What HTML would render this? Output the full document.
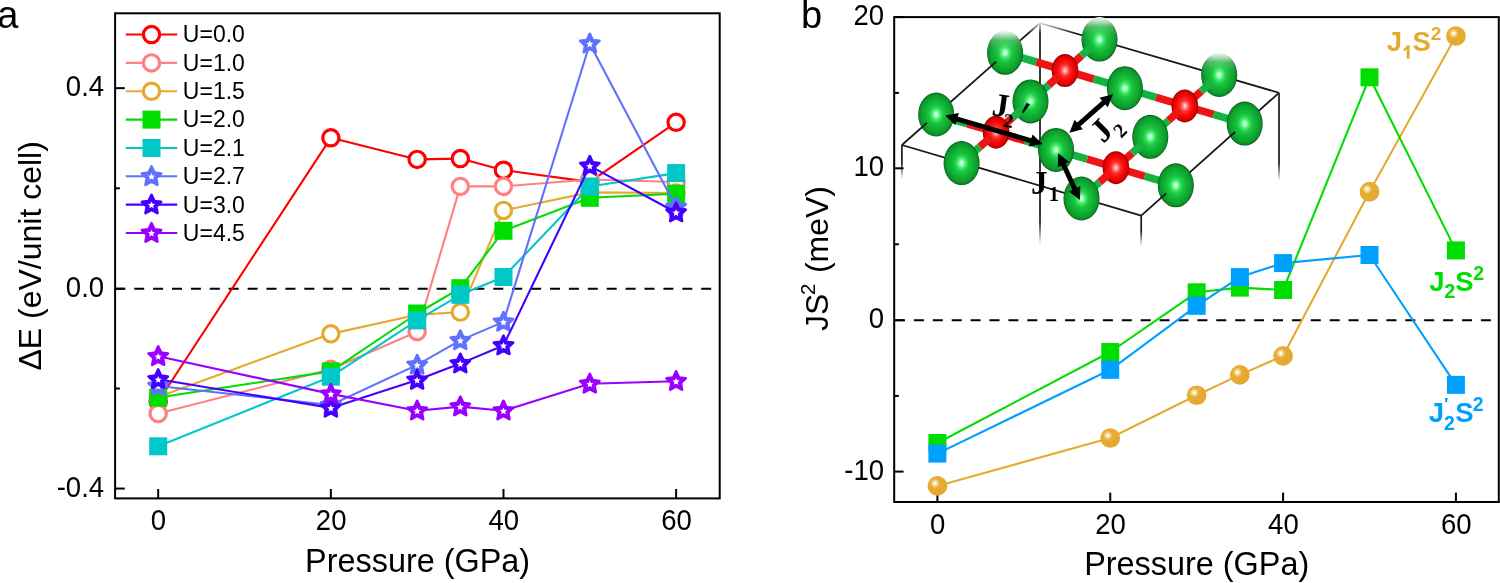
<!DOCTYPE html>
<html><head><meta charset="utf-8"><style>html,body{margin:0;padding:0;background:#fff;width:1500px;height:583px;overflow:hidden}svg{display:block;will-change:transform}</style></head>
<body><svg width="1500" height="583" viewBox="0 0 1500 583">
<defs>
<radialGradient id="gGold" cx="0.38" cy="0.37" r="0.72">
<stop offset="0" stop-color="#fffdf0"/><stop offset="0.08" stop-color="#fff6dc"/><stop offset="0.2" stop-color="#f2cf80"/><stop offset="0.34" stop-color="#e6ad33"/><stop offset="1" stop-color="#e3a82c"/></radialGradient>
<radialGradient id="gG" cx="0.5" cy="0.5" r="0.5">
<stop offset="0" stop-color="#e8ffff"/><stop offset="0.08" stop-color="#b8ffd8"/><stop offset="0.22" stop-color="#44ee6c"/><stop offset="0.4" stop-color="#1ac840"/><stop offset="0.62" stop-color="#12b236"/><stop offset="0.85" stop-color="#0d9e2c"/><stop offset="0.95" stop-color="#088722"/><stop offset="1" stop-color="#034512"/></radialGradient>
<radialGradient id="gR" cx="0.5" cy="0.5" r="0.5">
<stop offset="0" stop-color="#ffe6e6"/><stop offset="0.14" stop-color="#ff9a9a"/><stop offset="0.34" stop-color="#ff3030"/><stop offset="0.6" stop-color="#f80a0a"/><stop offset="0.88" stop-color="#dc0000"/><stop offset="0.97" stop-color="#a00000"/><stop offset="1" stop-color="#700000"/></radialGradient>
<linearGradient id="fadeTop" x1="0" y1="0" x2="0" y2="1">
<stop offset="0" stop-color="#fff" stop-opacity="1"/><stop offset="0.1" stop-color="#fff" stop-opacity="0.7"/><stop offset="0.22" stop-color="#fff" stop-opacity="0.25"/><stop offset="0.38" stop-color="#fff" stop-opacity="0.06"/><stop offset="0.5" stop-color="#fff" stop-opacity="0"/></linearGradient>
<linearGradient id="fadeV" x1="0" y1="0" x2="0" y2="1">
<stop offset="0" stop-color="#1a1a1a" stop-opacity="1"/><stop offset="0.55" stop-color="#1a1a1a" stop-opacity="1"/><stop offset="1" stop-color="#1a1a1a" stop-opacity="0"/></linearGradient>
<linearGradient id="fadeTop2" x1="0" y1="0" x2="0" y2="1"><stop offset="0" stop-color="#fff" stop-opacity="1"/><stop offset="0.3" stop-color="#fff" stop-opacity="0.85"/><stop offset="1" stop-color="#fff" stop-opacity="0"/></linearGradient>
</defs>
<rect width="1500" height="583" fill="#fff"/>
<g stroke="#000" stroke-width="2" fill="none">
<rect x="115.1" y="13.3" width="604.6" height="485.1"/>
<line x1="115.1" y1="88.15" x2="124.8" y2="88.15"/>
<line x1="115.1" y1="288.75" x2="124.8" y2="288.75"/>
<line x1="115.1" y1="488.55" x2="124.8" y2="488.55"/>
<line x1="115.1" y1="188.3" x2="119.9" y2="188.3"/>
<line x1="115.1" y1="388.5" x2="119.9" y2="388.5"/>
<line x1="158.20" y1="498.4" x2="158.20" y2="489"/>
<line x1="330.84" y1="498.4" x2="330.84" y2="489"/>
<line x1="503.48" y1="498.4" x2="503.48" y2="489"/>
<line x1="676.12" y1="498.4" x2="676.12" y2="489"/>
</g>
<line x1="115.3" y1="288.75" x2="719" y2="288.75" stroke="#000" stroke-width="2" stroke-dasharray="10 8.9"/>
<polyline points="158.20,401.50 330.84,137.80 417.16,159.40 460.32,158.60 503.48,170.20 589.80,181.90 676.12,122.30" fill="none" stroke="#ff0000" stroke-width="2.1" stroke-linejoin="round"/>
<circle cx="158.20" cy="401.50" r="8.15" fill="#fff" stroke="#ff0000" stroke-width="3.2"/>
<circle cx="330.84" cy="137.80" r="8.15" fill="#fff" stroke="#ff0000" stroke-width="3.2"/>
<circle cx="417.16" cy="159.40" r="8.15" fill="#fff" stroke="#ff0000" stroke-width="3.2"/>
<circle cx="460.32" cy="158.60" r="8.15" fill="#fff" stroke="#ff0000" stroke-width="3.2"/>
<circle cx="503.48" cy="170.20" r="8.15" fill="#fff" stroke="#ff0000" stroke-width="3.2"/>
<circle cx="589.80" cy="181.90" r="8.15" fill="#fff" stroke="#ff0000" stroke-width="3.2"/>
<circle cx="676.12" cy="122.30" r="8.15" fill="#fff" stroke="#ff0000" stroke-width="3.2"/>
<polyline points="158.20,413.50 330.84,369.30 417.16,331.70 460.32,186.40 503.48,186.40 589.80,179.50 676.12,182.00" fill="none" stroke="#ff8080" stroke-width="2.1" stroke-linejoin="round"/>
<circle cx="158.20" cy="413.50" r="8.15" fill="#fff" stroke="#ff8080" stroke-width="3.2"/>
<circle cx="330.84" cy="369.30" r="8.15" fill="#fff" stroke="#ff8080" stroke-width="3.2"/>
<circle cx="417.16" cy="331.70" r="8.15" fill="#fff" stroke="#ff8080" stroke-width="3.2"/>
<circle cx="460.32" cy="186.40" r="8.15" fill="#fff" stroke="#ff8080" stroke-width="3.2"/>
<circle cx="503.48" cy="186.40" r="8.15" fill="#fff" stroke="#ff8080" stroke-width="3.2"/>
<circle cx="589.80" cy="179.50" r="8.15" fill="#fff" stroke="#ff8080" stroke-width="3.2"/>
<circle cx="676.12" cy="182.00" r="8.15" fill="#fff" stroke="#ff8080" stroke-width="3.2"/>
<polyline points="158.20,397.00 330.84,333.85 417.16,314.70 460.32,312.10 503.48,210.40 589.80,192.40 676.12,193.00" fill="none" stroke="#e5a92f" stroke-width="2.1" stroke-linejoin="round"/>
<circle cx="158.20" cy="397.00" r="8.15" fill="#fff" stroke="#e5a92f" stroke-width="3.2"/>
<circle cx="330.84" cy="333.85" r="8.15" fill="#fff" stroke="#e5a92f" stroke-width="3.2"/>
<circle cx="417.16" cy="314.70" r="8.15" fill="#fff" stroke="#e5a92f" stroke-width="3.2"/>
<circle cx="460.32" cy="312.10" r="8.15" fill="#fff" stroke="#e5a92f" stroke-width="3.2"/>
<circle cx="503.48" cy="210.40" r="8.15" fill="#fff" stroke="#e5a92f" stroke-width="3.2"/>
<circle cx="589.80" cy="192.40" r="8.15" fill="#fff" stroke="#e5a92f" stroke-width="3.2"/>
<circle cx="676.12" cy="193.00" r="8.15" fill="#fff" stroke="#e5a92f" stroke-width="3.2"/>
<polyline points="158.20,397.50 330.84,371.40 417.16,313.50 460.32,288.20 503.48,230.80 589.80,197.80 676.12,193.80" fill="none" stroke="#00dd00" stroke-width="2.1" stroke-linejoin="round"/>
<rect x="149.20" y="388.50" width="18" height="18" fill="#00dd00"/>
<rect x="321.84" y="362.40" width="18" height="18" fill="#00dd00"/>
<rect x="408.16" y="304.50" width="18" height="18" fill="#00dd00"/>
<rect x="451.32" y="279.20" width="18" height="18" fill="#00dd00"/>
<rect x="494.48" y="221.80" width="18" height="18" fill="#00dd00"/>
<rect x="580.80" y="188.80" width="18" height="18" fill="#00dd00"/>
<rect x="667.12" y="184.80" width="18" height="18" fill="#00dd00"/>
<polyline points="158.20,446.30 330.84,376.70 417.16,320.40 460.32,294.80 503.48,277.00 589.80,186.50 676.12,173.10" fill="none" stroke="#00c8c8" stroke-width="2.1" stroke-linejoin="round"/>
<rect x="149.20" y="437.30" width="18" height="18" fill="#00c8c8"/>
<rect x="321.84" y="367.70" width="18" height="18" fill="#00c8c8"/>
<rect x="408.16" y="311.40" width="18" height="18" fill="#00c8c8"/>
<rect x="451.32" y="285.80" width="18" height="18" fill="#00c8c8"/>
<rect x="494.48" y="268.00" width="18" height="18" fill="#00c8c8"/>
<rect x="580.80" y="177.50" width="18" height="18" fill="#00c8c8"/>
<rect x="667.12" y="164.10" width="18" height="18" fill="#00c8c8"/>
<polyline points="158.20,386.00 330.84,405.00 417.16,364.90 460.32,340.40 503.48,321.90 589.80,43.70 676.12,207.00" fill="none" stroke="#6070ff" stroke-width="2.1" stroke-linejoin="round"/>
<polygon points="158.20,376.20 161.08,382.34 167.81,383.18 162.86,387.81 164.14,394.47 158.20,391.20 152.26,394.47 153.54,387.81 148.59,383.18 155.32,382.34" fill="#6070ff" stroke="#6070ff" stroke-width="2.7" stroke-linejoin="round"/><polygon points="158.20,382.75 159.23,385.08 161.77,385.34 159.86,387.04 160.40,389.53 158.20,388.25 156.00,389.53 156.54,387.04 154.63,385.34 157.17,385.08" fill="#fff"/>
<polygon points="330.84,395.20 333.72,401.34 340.45,402.18 335.50,406.81 336.78,413.47 330.84,410.20 324.90,413.47 326.18,406.81 321.23,402.18 327.96,401.34" fill="#6070ff" stroke="#6070ff" stroke-width="2.7" stroke-linejoin="round"/><polygon points="330.84,401.75 331.87,404.08 334.41,404.34 332.50,406.04 333.04,408.53 330.84,407.25 328.64,408.53 329.18,406.04 327.27,404.34 329.81,404.08" fill="#fff"/>
<polygon points="417.16,355.10 420.04,361.24 426.77,362.08 421.82,366.71 423.10,373.37 417.16,370.10 411.22,373.37 412.50,366.71 407.55,362.08 414.28,361.24" fill="#6070ff" stroke="#6070ff" stroke-width="2.7" stroke-linejoin="round"/><polygon points="417.16,361.65 418.19,363.98 420.73,364.24 418.82,365.94 419.36,368.43 417.16,367.15 414.96,368.43 415.50,365.94 413.59,364.24 416.13,363.98" fill="#fff"/>
<polygon points="460.32,330.60 463.20,336.74 469.93,337.58 464.98,342.21 466.26,348.87 460.32,345.60 454.38,348.87 455.66,342.21 450.71,337.58 457.44,336.74" fill="#6070ff" stroke="#6070ff" stroke-width="2.7" stroke-linejoin="round"/><polygon points="460.32,337.15 461.35,339.48 463.89,339.74 461.98,341.44 462.52,343.93 460.32,342.65 458.12,343.93 458.66,341.44 456.75,339.74 459.29,339.48" fill="#fff"/>
<polygon points="503.48,312.10 506.36,318.24 513.09,319.08 508.14,323.71 509.42,330.37 503.48,327.10 497.54,330.37 498.82,323.71 493.87,319.08 500.60,318.24" fill="#6070ff" stroke="#6070ff" stroke-width="2.7" stroke-linejoin="round"/><polygon points="503.48,318.65 504.51,320.98 507.05,321.24 505.14,322.94 505.68,325.43 503.48,324.15 501.28,325.43 501.82,322.94 499.91,321.24 502.45,320.98" fill="#fff"/>
<polygon points="589.80,33.90 592.68,40.04 599.41,40.88 594.46,45.51 595.74,52.17 589.80,48.90 583.86,52.17 585.14,45.51 580.19,40.88 586.92,40.04" fill="#6070ff" stroke="#6070ff" stroke-width="2.7" stroke-linejoin="round"/><polygon points="589.80,40.45 590.83,42.78 593.37,43.04 591.46,44.74 592.00,47.23 589.80,45.95 587.60,47.23 588.14,44.74 586.23,43.04 588.77,42.78" fill="#fff"/>
<polygon points="676.12,197.20 679.00,203.34 685.73,204.18 680.78,208.81 682.06,215.47 676.12,212.20 670.18,215.47 671.46,208.81 666.51,204.18 673.24,203.34" fill="#6070ff" stroke="#6070ff" stroke-width="2.7" stroke-linejoin="round"/><polygon points="676.12,203.75 677.15,206.08 679.69,206.34 677.78,208.04 678.32,210.53 676.12,209.25 673.92,210.53 674.46,208.04 672.55,206.34 675.09,206.08" fill="#fff"/>
<polyline points="158.20,379.30 330.84,407.90 417.16,380.00 460.32,363.60 503.48,345.50 589.80,165.90 676.12,212.50" fill="none" stroke="#4400ff" stroke-width="2.1" stroke-linejoin="round"/>
<polygon points="158.20,369.50 161.08,375.64 167.81,376.48 162.86,381.11 164.14,387.77 158.20,384.50 152.26,387.77 153.54,381.11 148.59,376.48 155.32,375.64" fill="#4400ff" stroke="#4400ff" stroke-width="2.7" stroke-linejoin="round"/><polygon points="158.20,376.05 159.23,378.38 161.77,378.64 159.86,380.34 160.40,382.83 158.20,381.55 156.00,382.83 156.54,380.34 154.63,378.64 157.17,378.38" fill="#fff"/>
<polygon points="330.84,398.10 333.72,404.24 340.45,405.08 335.50,409.71 336.78,416.37 330.84,413.10 324.90,416.37 326.18,409.71 321.23,405.08 327.96,404.24" fill="#4400ff" stroke="#4400ff" stroke-width="2.7" stroke-linejoin="round"/><polygon points="330.84,404.65 331.87,406.98 334.41,407.24 332.50,408.94 333.04,411.43 330.84,410.15 328.64,411.43 329.18,408.94 327.27,407.24 329.81,406.98" fill="#fff"/>
<polygon points="417.16,370.20 420.04,376.34 426.77,377.18 421.82,381.81 423.10,388.47 417.16,385.20 411.22,388.47 412.50,381.81 407.55,377.18 414.28,376.34" fill="#4400ff" stroke="#4400ff" stroke-width="2.7" stroke-linejoin="round"/><polygon points="417.16,376.75 418.19,379.08 420.73,379.34 418.82,381.04 419.36,383.53 417.16,382.25 414.96,383.53 415.50,381.04 413.59,379.34 416.13,379.08" fill="#fff"/>
<polygon points="460.32,353.80 463.20,359.94 469.93,360.78 464.98,365.41 466.26,372.07 460.32,368.80 454.38,372.07 455.66,365.41 450.71,360.78 457.44,359.94" fill="#4400ff" stroke="#4400ff" stroke-width="2.7" stroke-linejoin="round"/><polygon points="460.32,360.35 461.35,362.68 463.89,362.94 461.98,364.64 462.52,367.13 460.32,365.85 458.12,367.13 458.66,364.64 456.75,362.94 459.29,362.68" fill="#fff"/>
<polygon points="503.48,335.70 506.36,341.84 513.09,342.68 508.14,347.31 509.42,353.97 503.48,350.70 497.54,353.97 498.82,347.31 493.87,342.68 500.60,341.84" fill="#4400ff" stroke="#4400ff" stroke-width="2.7" stroke-linejoin="round"/><polygon points="503.48,342.25 504.51,344.58 507.05,344.84 505.14,346.54 505.68,349.03 503.48,347.75 501.28,349.03 501.82,346.54 499.91,344.84 502.45,344.58" fill="#fff"/>
<polygon points="589.80,156.10 592.68,162.24 599.41,163.08 594.46,167.71 595.74,174.37 589.80,171.10 583.86,174.37 585.14,167.71 580.19,163.08 586.92,162.24" fill="#4400ff" stroke="#4400ff" stroke-width="2.7" stroke-linejoin="round"/><polygon points="589.80,162.65 590.83,164.98 593.37,165.24 591.46,166.94 592.00,169.43 589.80,168.15 587.60,169.43 588.14,166.94 586.23,165.24 588.77,164.98" fill="#fff"/>
<polygon points="676.12,202.70 679.00,208.84 685.73,209.68 680.78,214.31 682.06,220.97 676.12,217.70 670.18,220.97 671.46,214.31 666.51,209.68 673.24,208.84" fill="#4400ff" stroke="#4400ff" stroke-width="2.7" stroke-linejoin="round"/><polygon points="676.12,209.25 677.15,211.58 679.69,211.84 677.78,213.54 678.32,216.03 676.12,214.75 673.92,216.03 674.46,213.54 672.55,211.84 675.09,211.58" fill="#fff"/>
<polyline points="158.20,356.30 330.84,393.90 417.16,410.70 460.32,406.60 503.48,410.70 589.80,383.80 676.12,381.20" fill="none" stroke="#9900ff" stroke-width="2.1" stroke-linejoin="round"/>
<polygon points="158.20,346.50 161.08,352.64 167.81,353.48 162.86,358.11 164.14,364.77 158.20,361.50 152.26,364.77 153.54,358.11 148.59,353.48 155.32,352.64" fill="#9900ff" stroke="#9900ff" stroke-width="2.7" stroke-linejoin="round"/><polygon points="158.20,353.05 159.23,355.38 161.77,355.64 159.86,357.34 160.40,359.83 158.20,358.55 156.00,359.83 156.54,357.34 154.63,355.64 157.17,355.38" fill="#fff"/>
<polygon points="330.84,384.10 333.72,390.24 340.45,391.08 335.50,395.71 336.78,402.37 330.84,399.10 324.90,402.37 326.18,395.71 321.23,391.08 327.96,390.24" fill="#9900ff" stroke="#9900ff" stroke-width="2.7" stroke-linejoin="round"/><polygon points="330.84,390.65 331.87,392.98 334.41,393.24 332.50,394.94 333.04,397.43 330.84,396.15 328.64,397.43 329.18,394.94 327.27,393.24 329.81,392.98" fill="#fff"/>
<polygon points="417.16,400.90 420.04,407.04 426.77,407.88 421.82,412.51 423.10,419.17 417.16,415.90 411.22,419.17 412.50,412.51 407.55,407.88 414.28,407.04" fill="#9900ff" stroke="#9900ff" stroke-width="2.7" stroke-linejoin="round"/><polygon points="417.16,407.45 418.19,409.78 420.73,410.04 418.82,411.74 419.36,414.23 417.16,412.95 414.96,414.23 415.50,411.74 413.59,410.04 416.13,409.78" fill="#fff"/>
<polygon points="460.32,396.80 463.20,402.94 469.93,403.78 464.98,408.41 466.26,415.07 460.32,411.80 454.38,415.07 455.66,408.41 450.71,403.78 457.44,402.94" fill="#9900ff" stroke="#9900ff" stroke-width="2.7" stroke-linejoin="round"/><polygon points="460.32,403.35 461.35,405.68 463.89,405.94 461.98,407.64 462.52,410.13 460.32,408.85 458.12,410.13 458.66,407.64 456.75,405.94 459.29,405.68" fill="#fff"/>
<polygon points="503.48,400.90 506.36,407.04 513.09,407.88 508.14,412.51 509.42,419.17 503.48,415.90 497.54,419.17 498.82,412.51 493.87,407.88 500.60,407.04" fill="#9900ff" stroke="#9900ff" stroke-width="2.7" stroke-linejoin="round"/><polygon points="503.48,407.45 504.51,409.78 507.05,410.04 505.14,411.74 505.68,414.23 503.48,412.95 501.28,414.23 501.82,411.74 499.91,410.04 502.45,409.78" fill="#fff"/>
<polygon points="589.80,374.00 592.68,380.14 599.41,380.98 594.46,385.61 595.74,392.27 589.80,389.00 583.86,392.27 585.14,385.61 580.19,380.98 586.92,380.14" fill="#9900ff" stroke="#9900ff" stroke-width="2.7" stroke-linejoin="round"/><polygon points="589.80,380.55 590.83,382.88 593.37,383.14 591.46,384.84 592.00,387.33 589.80,386.05 587.60,387.33 588.14,384.84 586.23,383.14 588.77,382.88" fill="#fff"/>
<polygon points="676.12,371.40 679.00,377.54 685.73,378.38 680.78,383.01 682.06,389.67 676.12,386.40 670.18,389.67 671.46,383.01 666.51,378.38 673.24,377.54" fill="#9900ff" stroke="#9900ff" stroke-width="2.7" stroke-linejoin="round"/><polygon points="676.12,377.95 677.15,380.28 679.69,380.54 677.78,382.24 678.32,384.73 676.12,383.45 673.92,384.73 674.46,382.24 672.55,380.54 675.09,380.28" fill="#fff"/>
<line x1="125.8" y1="34.55" x2="177.2" y2="34.55" stroke="#ff0000" stroke-width="2.1"/>
<circle cx="151.50" cy="34.55" r="8.15" fill="#fff" stroke="#ff0000" stroke-width="3.2"/>
<text transform="translate(182.85,42.40) scale(1.0,1.02)" font-family="&quot;Liberation Sans&quot;, sans-serif" font-size="23">U=0.0</text>
<line x1="125.8" y1="62.90" x2="177.2" y2="62.90" stroke="#ff8080" stroke-width="2.1"/>
<circle cx="151.50" cy="62.90" r="8.15" fill="#fff" stroke="#ff8080" stroke-width="3.2"/>
<text transform="translate(182.85,70.75) scale(1.0,1.02)" font-family="&quot;Liberation Sans&quot;, sans-serif" font-size="23">U=1.0</text>
<line x1="125.8" y1="91.25" x2="177.2" y2="91.25" stroke="#e5a92f" stroke-width="2.1"/>
<circle cx="151.50" cy="91.25" r="8.15" fill="#fff" stroke="#e5a92f" stroke-width="3.2"/>
<text transform="translate(182.85,99.10) scale(1.0,1.02)" font-family="&quot;Liberation Sans&quot;, sans-serif" font-size="23">U=1.5</text>
<line x1="125.8" y1="119.60" x2="177.2" y2="119.60" stroke="#00dd00" stroke-width="2.1"/>
<rect x="142.50" y="110.60" width="18" height="18" fill="#00dd00"/>
<text transform="translate(182.85,127.45) scale(1.0,1.02)" font-family="&quot;Liberation Sans&quot;, sans-serif" font-size="23">U=2.0</text>
<line x1="125.8" y1="147.95" x2="177.2" y2="147.95" stroke="#00c8c8" stroke-width="2.1"/>
<rect x="142.50" y="138.95" width="18" height="18" fill="#00c8c8"/>
<text transform="translate(182.85,155.80) scale(1.0,1.02)" font-family="&quot;Liberation Sans&quot;, sans-serif" font-size="23">U=2.1</text>
<line x1="125.8" y1="176.30" x2="177.2" y2="176.30" stroke="#6070ff" stroke-width="2.1"/>
<polygon points="151.50,166.50 154.38,172.64 161.11,173.48 156.16,178.11 157.44,184.77 151.50,181.50 145.56,184.77 146.84,178.11 141.89,173.48 148.62,172.64" fill="#6070ff" stroke="#6070ff" stroke-width="2.7" stroke-linejoin="round"/><polygon points="151.50,173.05 152.53,175.38 155.07,175.64 153.16,177.34 153.70,179.83 151.50,178.55 149.30,179.83 149.84,177.34 147.93,175.64 150.47,175.38" fill="#fff"/>
<text transform="translate(182.85,184.15) scale(1.0,1.02)" font-family="&quot;Liberation Sans&quot;, sans-serif" font-size="23">U=2.7</text>
<line x1="125.8" y1="204.65" x2="177.2" y2="204.65" stroke="#4400ff" stroke-width="2.1"/>
<polygon points="151.50,194.85 154.38,200.99 161.11,201.83 156.16,206.46 157.44,213.12 151.50,209.85 145.56,213.12 146.84,206.46 141.89,201.83 148.62,200.99" fill="#4400ff" stroke="#4400ff" stroke-width="2.7" stroke-linejoin="round"/><polygon points="151.50,201.40 152.53,203.73 155.07,203.99 153.16,205.69 153.70,208.18 151.50,206.90 149.30,208.18 149.84,205.69 147.93,203.99 150.47,203.73" fill="#fff"/>
<text transform="translate(182.85,212.50) scale(1.0,1.02)" font-family="&quot;Liberation Sans&quot;, sans-serif" font-size="23">U=3.0</text>
<line x1="125.8" y1="233.00" x2="177.2" y2="233.00" stroke="#9900ff" stroke-width="2.1"/>
<polygon points="151.50,223.20 154.38,229.34 161.11,230.18 156.16,234.81 157.44,241.47 151.50,238.20 145.56,241.47 146.84,234.81 141.89,230.18 148.62,229.34" fill="#9900ff" stroke="#9900ff" stroke-width="2.7" stroke-linejoin="round"/><polygon points="151.50,229.75 152.53,232.08 155.07,232.34 153.16,234.04 153.70,236.53 151.50,235.25 149.30,236.53 149.84,234.04 147.93,232.34 150.47,232.08" fill="#fff"/>
<text transform="translate(182.85,240.85) scale(1.0,1.02)" font-family="&quot;Liberation Sans&quot;, sans-serif" font-size="23">U=4.5</text>
<text transform="translate(104.10,96.40) scale(1.0,1.06)" text-anchor="end" font-family="&quot;Liberation Sans&quot;, sans-serif" font-size="27.5">0.4</text>
<text transform="translate(104.10,297.00) scale(1.0,1.06)" text-anchor="end" font-family="&quot;Liberation Sans&quot;, sans-serif" font-size="27.5">0.0</text>
<text transform="translate(104.10,496.80) scale(1.0,1.06)" text-anchor="end" font-family="&quot;Liberation Sans&quot;, sans-serif" font-size="27.5">-0.4</text>
<text transform="translate(158.50,530.30) scale(1.0,1.06)" text-anchor="middle" font-family="&quot;Liberation Sans&quot;, sans-serif" font-size="27.5">0</text>
<text transform="translate(331.14,530.30) scale(1.0,1.06)" text-anchor="middle" font-family="&quot;Liberation Sans&quot;, sans-serif" font-size="27.5">20</text>
<text transform="translate(503.78,530.30) scale(1.0,1.06)" text-anchor="middle" font-family="&quot;Liberation Sans&quot;, sans-serif" font-size="27.5">40</text>
<text transform="translate(676.42,530.30) scale(1.0,1.06)" text-anchor="middle" font-family="&quot;Liberation Sans&quot;, sans-serif" font-size="27.5">60</text>
<text x="305.10" y="571.80" font-family="&quot;Liberation Sans&quot;, sans-serif" font-size="32.4">Pressure (GPa)</text>
<text transform="translate(40.6,370.6) rotate(-90)" font-family="&quot;Liberation Sans&quot;, sans-serif" font-size="32">&#916;E (eV/unit cell)</text>
<text x="-2.65" y="27.60" font-family="&quot;Liberation Sans&quot;, sans-serif" font-size="38">a</text>
<g stroke="#000" stroke-width="2" fill="none">
<rect x="894.2" y="17.1" width="604.6" height="484.9"/>
<line x1="894.2" y1="17.1" x2="903.6" y2="17.1"/>
<line x1="894.2" y1="168.3" x2="903.6" y2="168.3"/>
<line x1="894.2" y1="320.2" x2="903.6" y2="320.2"/>
<line x1="894.2" y1="471.6" x2="903.6" y2="471.6"/>
<line x1="894.2" y1="92.9" x2="898.9" y2="92.9"/>
<line x1="894.2" y1="244.3" x2="898.9" y2="244.3"/>
<line x1="894.2" y1="395.9" x2="898.9" y2="395.9"/>
<line x1="937.40" y1="502" x2="937.40" y2="492.6"/>
<line x1="1110.24" y1="502" x2="1110.24" y2="492.6"/>
<line x1="1283.08" y1="502" x2="1283.08" y2="492.6"/>
<line x1="1455.92" y1="502" x2="1455.92" y2="492.6"/>
</g>
<line x1="895" y1="320.2" x2="1498" y2="320.2" stroke="#000" stroke-width="2" stroke-dasharray="10 8.9"/>
<g stroke="#161616" stroke-width="1.75" fill="none">
<line x1="1040.0" y1="23.0" x2="1279.0" y2="92.8"/>
<line x1="1040.0" y1="23.0" x2="901.9" y2="145.0"/>
<line x1="901.9" y1="145.0" x2="1141.2" y2="215.6"/>
<line x1="1141.2" y1="215.6" x2="1279.0" y2="92.8"/>
</g>
<linearGradient id="vf1" gradientUnits="userSpaceOnUse" x1="0" y1="23.0" x2="0" y2="244"><stop offset="0" stop-color="#1a1a1a"/><stop offset="0.900" stop-color="#1a1a1a"/><stop offset="1" stop-color="#1a1a1a" stop-opacity="0"/></linearGradient><rect x="1039.15" y="23.0" width="1.7" height="221.0" fill="url(#vf1)"/>
<linearGradient id="vf2" gradientUnits="userSpaceOnUse" x1="0" y1="145.0" x2="0" y2="179"><stop offset="0" stop-color="#1a1a1a"/><stop offset="0.529" stop-color="#1a1a1a"/><stop offset="1" stop-color="#1a1a1a" stop-opacity="0"/></linearGradient><rect x="901.05" y="145.0" width="1.7" height="34.0" fill="url(#vf2)"/>
<linearGradient id="vf3" gradientUnits="userSpaceOnUse" x1="0" y1="215.6" x2="0" y2="246"><stop offset="0" stop-color="#1a1a1a"/><stop offset="0.507" stop-color="#1a1a1a"/><stop offset="1" stop-color="#1a1a1a" stop-opacity="0"/></linearGradient><rect x="1140.35" y="215.6" width="1.7" height="30.4" fill="url(#vf3)"/>
<linearGradient id="vf4" gradientUnits="userSpaceOnUse" x1="0" y1="92.8" x2="0" y2="181"><stop offset="0" stop-color="#1a1a1a"/><stop offset="0.796" stop-color="#1a1a1a"/><stop offset="1" stop-color="#1a1a1a" stop-opacity="0"/></linearGradient><rect x="1278.15" y="92.8" width="1.7" height="88.2" fill="url(#vf4)"/>
<rect x="1018" y="19" width="60" height="14" fill="url(#fadeTop2)"/>
<ellipse cx="1099.5" cy="39.6" rx="18" ry="22" fill="url(#gG)"/><ellipse cx="1099.5" cy="39.6" rx="18.6" ry="22.6" fill="url(#fadeTop)"/>
<line x1="1005.1" y1="52.8" x2="1036.3" y2="62.0" stroke="#14b442" stroke-width="7.6"/><line x1="1036.3" y1="62.0" x2="1065.0" y2="70.5" stroke="#ee1414" stroke-width="7.6"/>
<ellipse cx="1005.1" cy="52.8" rx="18" ry="22" fill="url(#gG)"/><ellipse cx="1005.1" cy="52.8" rx="18.6" ry="22.6" fill="url(#fadeTop)"/>
<line x1="1092.0" y1="46.3" x2="1081.3" y2="55.9" stroke="#14b442" stroke-width="7.6"/><line x1="1081.3" y1="55.9" x2="1065.0" y2="70.5" stroke="#ee1414" stroke-width="7.6"/>
<line x1="1124.9" y1="88.2" x2="1093.7" y2="79.0" stroke="#14b442" stroke-width="7.6"/><line x1="1093.7" y1="79.0" x2="1065.0" y2="70.5" stroke="#ee1414" stroke-width="7.6"/>
<ellipse cx="1065.0" cy="70.5" rx="13.3" ry="16.5" fill="url(#gR)"/>
<ellipse cx="1219.2" cy="75.0" rx="18" ry="22" fill="url(#gG)"/><ellipse cx="1219.2" cy="75.0" rx="18.6" ry="22.6" fill="url(#fadeTop)"/>
<line x1="1030.5" y1="101.4" x2="1048.7" y2="85.1" stroke="#14b442" stroke-width="7.6"/><line x1="1048.7" y1="85.1" x2="1059.4" y2="75.5" stroke="#ee1414" stroke-width="7.6"/>
<line x1="1124.9" y1="88.2" x2="1156.1" y2="97.4" stroke="#14b442" stroke-width="7.6"/><line x1="1156.1" y1="97.4" x2="1184.8" y2="105.9" stroke="#ee1414" stroke-width="7.6"/>
<ellipse cx="1124.9" cy="88.2" rx="18" ry="22" fill="url(#gG)"/>
<line x1="1211.8" y1="81.7" x2="1201.1" y2="91.3" stroke="#14b442" stroke-width="7.6"/><line x1="1201.1" y1="91.3" x2="1184.8" y2="105.9" stroke="#ee1414" stroke-width="7.6"/>
<ellipse cx="1030.5" cy="101.4" rx="18" ry="22" fill="url(#gG)"/>
<line x1="1244.7" y1="123.6" x2="1213.5" y2="114.4" stroke="#14b442" stroke-width="7.6"/><line x1="1213.5" y1="114.4" x2="1184.8" y2="105.9" stroke="#ee1414" stroke-width="7.6"/>
<ellipse cx="1184.8" cy="105.9" rx="13.3" ry="16.5" fill="url(#gR)"/>
<line x1="936.2" y1="114.5" x2="967.4" y2="123.8" stroke="#14b442" stroke-width="7.6"/><line x1="967.4" y1="123.8" x2="996.1" y2="132.2" stroke="#ee1414" stroke-width="7.6"/>
<ellipse cx="936.2" cy="114.5" rx="18" ry="22" fill="url(#gG)"/>
<line x1="1023.1" y1="108.0" x2="1012.4" y2="117.7" stroke="#14b442" stroke-width="7.6"/><line x1="1012.4" y1="117.7" x2="996.1" y2="132.2" stroke="#ee1414" stroke-width="7.6"/>
<line x1="1150.3" y1="136.8" x2="1168.5" y2="120.5" stroke="#14b442" stroke-width="7.6"/><line x1="1168.5" y1="120.5" x2="1179.2" y2="110.9" stroke="#ee1414" stroke-width="7.6"/>
<ellipse cx="1244.7" cy="123.6" rx="18" ry="22" fill="url(#gG)"/>
<line x1="1056.0" y1="149.9" x2="1024.8" y2="140.7" stroke="#14b442" stroke-width="7.6"/><line x1="1024.8" y1="140.7" x2="996.1" y2="132.2" stroke="#ee1414" stroke-width="7.6"/>
<ellipse cx="996.1" cy="132.2" rx="13.3" ry="16.5" fill="url(#gR)"/>
<ellipse cx="1150.3" cy="136.8" rx="18" ry="22" fill="url(#gG)"/>
<line x1="961.6" y1="163.1" x2="979.8" y2="146.8" stroke="#14b442" stroke-width="7.6"/><line x1="979.8" y1="146.8" x2="990.5" y2="137.3" stroke="#ee1414" stroke-width="7.6"/>
<line x1="1056.0" y1="150.0" x2="1087.2" y2="159.2" stroke="#14b442" stroke-width="7.6"/><line x1="1087.2" y1="159.2" x2="1115.9" y2="167.7" stroke="#ee1414" stroke-width="7.6"/>
<ellipse cx="1056.0" cy="149.9" rx="18" ry="22" fill="url(#gG)"/>
<line x1="1142.9" y1="143.4" x2="1132.2" y2="153.1" stroke="#14b442" stroke-width="7.6"/><line x1="1132.2" y1="153.1" x2="1115.9" y2="167.7" stroke="#ee1414" stroke-width="7.6"/>
<ellipse cx="961.6" cy="163.1" rx="18" ry="22" fill="url(#gG)"/>
<line x1="1175.8" y1="185.3" x2="1144.6" y2="176.1" stroke="#14b442" stroke-width="7.6"/><line x1="1144.6" y1="176.1" x2="1115.9" y2="167.7" stroke="#ee1414" stroke-width="7.6"/>
<ellipse cx="1115.9" cy="167.7" rx="13.3" ry="16.5" fill="url(#gR)"/>
<line x1="1081.4" y1="198.5" x2="1099.6" y2="182.2" stroke="#14b442" stroke-width="7.6"/><line x1="1099.6" y1="182.2" x2="1110.3" y2="172.7" stroke="#ee1414" stroke-width="7.6"/>
<ellipse cx="1175.8" cy="185.3" rx="18" ry="22" fill="url(#gG)"/>
<ellipse cx="1081.5" cy="198.5" rx="18" ry="22" fill="url(#gG)"/>
<line x1="1161.19" y1="197.79" x2="1166.18" y2="193.34" stroke="#161616" stroke-width="1.75"/>
<line x1="1230.26" y1="136.23" x2="1235.25" y2="131.79" stroke="#161616" stroke-width="1.75"/>
<line x1="991.25" y1="66.07" x2="996.24" y2="61.66" stroke="#161616" stroke-width="1.75"/>
<line x1="921.91" y1="127.32" x2="926.91" y2="122.91" stroke="#161616" stroke-width="1.75"/>
<line x1="954.7" y1="118.4" x2="1033.1" y2="141.3" stroke="#000" stroke-width="5.0"/><polygon points="1042.7,144.1 1028.9,146.6 1032.5,134.6" fill="#000"/><polygon points="945.1,115.6 955.3,125.1 958.9,113.1" fill="#000"/>
<line x1="1076.9" y1="126.2" x2="1105.5" y2="100.8" stroke="#000" stroke-width="5.0"/><polygon points="1113.0,94.2 1107.8,107.2 1099.5,97.8" fill="#000"/><polygon points="1069.4,132.8 1082.9,129.2 1074.6,119.8" fill="#000"/>
<line x1="1062.4" y1="162.3" x2="1075.7" y2="191.0" stroke="#000" stroke-width="5.0"/><polygon points="1079.9,200.1 1069.0,191.4 1080.3,186.1" fill="#000"/><polygon points="1058.2,153.2 1057.8,167.2 1069.1,161.9" fill="#000"/>
<text x="1030.90" y="193.55" font-family="&quot;Liberation Serif&quot;, serif" font-weight="bold" font-size="33">J</text>
<text x="1048.80" y="201.40" font-family="&quot;Liberation Serif&quot;, serif" font-weight="bold" font-size="20.5">1</text>
<g transform="translate(1103.3,144.1) rotate(-45)"><text x="0.00" y="0.00" font-family="&quot;Liberation Serif&quot;, serif" font-weight="bold" font-size="33">J</text><text x="16.35" y="8.86" font-family="&quot;Liberation Serif&quot;, serif" font-weight="bold" font-size="20">2</text></g>
<g transform="translate(991.1,114.9) rotate(8)"><text x="0.00" y="0.00" font-family="&quot;Liberation Serif&quot;, serif" font-weight="bold" font-size="33">J</text><text x="13.07" y="10.21" font-family="&quot;Liberation Serif&quot;, serif" font-weight="bold" font-size="20">2</text></g>
<path d="M1026.6,103.0 L1030.0,104.2 L1023.4,113.0 L1021.8,112.4 Z" fill="#000"/>
<polyline points="937.40,485.90 1110.24,438.00 1196.66,395.25 1239.87,374.85 1283.08,355.90 1369.50,191.70 1455.92,36.00" fill="none" stroke="#e5ab2f" stroke-width="2.1" stroke-linejoin="round"/>
<circle cx="937.40" cy="485.90" r="9.85" fill="url(#gGold)"/>
<circle cx="1110.24" cy="438.00" r="9.85" fill="url(#gGold)"/>
<circle cx="1196.66" cy="395.25" r="9.85" fill="url(#gGold)"/>
<circle cx="1239.87" cy="374.85" r="9.85" fill="url(#gGold)"/>
<circle cx="1283.08" cy="355.90" r="9.85" fill="url(#gGold)"/>
<circle cx="1369.50" cy="191.70" r="9.85" fill="url(#gGold)"/>
<circle cx="1455.92" cy="36.00" r="9.85" fill="url(#gGold)"/>
<polyline points="937.40,443.00 1110.24,352.00 1196.66,292.30 1239.87,287.60 1283.08,290.00 1369.50,77.30 1455.92,250.40" fill="none" stroke="#00dd00" stroke-width="2.1" stroke-linejoin="round"/>
<rect x="928.40" y="434.00" width="18" height="18" fill="#00dd00"/>
<rect x="1101.24" y="343.00" width="18" height="18" fill="#00dd00"/>
<rect x="1187.66" y="283.30" width="18" height="18" fill="#00dd00"/>
<rect x="1230.87" y="278.60" width="18" height="18" fill="#00dd00"/>
<rect x="1274.08" y="281.00" width="18" height="18" fill="#00dd00"/>
<rect x="1360.50" y="68.30" width="18" height="18" fill="#00dd00"/>
<rect x="1446.92" y="241.40" width="18" height="18" fill="#00dd00"/>
<polyline points="937.40,453.60 1110.24,369.80 1196.66,305.80 1239.87,277.10 1283.08,263.10 1369.50,255.00 1455.92,384.85" fill="none" stroke="#00a0ff" stroke-width="2.1" stroke-linejoin="round"/>
<rect x="928.40" y="444.60" width="18" height="18" fill="#00a0ff"/>
<rect x="1101.24" y="360.80" width="18" height="18" fill="#00a0ff"/>
<rect x="1187.66" y="296.80" width="18" height="18" fill="#00a0ff"/>
<rect x="1230.87" y="268.10" width="18" height="18" fill="#00a0ff"/>
<rect x="1274.08" y="254.10" width="18" height="18" fill="#00a0ff"/>
<rect x="1360.50" y="246.00" width="18" height="18" fill="#00a0ff"/>
<rect x="1446.92" y="375.85" width="18" height="18" fill="#00a0ff"/>
<text transform="translate(884.00,25.10) scale(1.0,1.06)" text-anchor="end" font-family="&quot;Liberation Sans&quot;, sans-serif" font-size="27.5">20</text>
<text transform="translate(884.00,176.30) scale(1.0,1.06)" text-anchor="end" font-family="&quot;Liberation Sans&quot;, sans-serif" font-size="27.5">10</text>
<text transform="translate(884.00,328.20) scale(1.0,1.06)" text-anchor="end" font-family="&quot;Liberation Sans&quot;, sans-serif" font-size="27.5">0</text>
<text transform="translate(884.00,479.60) scale(1.0,1.06)" text-anchor="end" font-family="&quot;Liberation Sans&quot;, sans-serif" font-size="27.5">-10</text>
<text transform="translate(937.70,533.70) scale(1.0,1.06)" text-anchor="middle" font-family="&quot;Liberation Sans&quot;, sans-serif" font-size="27.5">0</text>
<text transform="translate(1110.54,533.70) scale(1.0,1.06)" text-anchor="middle" font-family="&quot;Liberation Sans&quot;, sans-serif" font-size="27.5">20</text>
<text transform="translate(1283.38,533.70) scale(1.0,1.06)" text-anchor="middle" font-family="&quot;Liberation Sans&quot;, sans-serif" font-size="27.5">40</text>
<text transform="translate(1456.22,533.70) scale(1.0,1.06)" text-anchor="middle" font-family="&quot;Liberation Sans&quot;, sans-serif" font-size="27.5">60</text>
<text x="1084.20" y="575.40" font-family="&quot;Liberation Sans&quot;, sans-serif" font-size="32.4">Pressure (GPa)</text>
<g transform="translate(828.2,331) rotate(-90)"><text x="0" y="0" font-family="&quot;Liberation Sans&quot;, sans-serif" font-size="32">JS</text><text x="36.1" y="-13.5" font-family="&quot;Liberation Sans&quot;, sans-serif" font-size="20.5">2</text><text x="57.9" y="0" font-family="&quot;Liberation Sans&quot;, sans-serif" font-size="32">(meV)</text></g>
<text x="800.90" y="27.60" font-family="&quot;Liberation Sans&quot;, sans-serif" font-size="38">b</text>
<text x="1386.80" y="51.25" font-family="&quot;Liberation Sans&quot;, sans-serif" font-weight="bold" font-size="27.5" fill="#e5ab2f">J</text>
<path d="M1406.8,45.3 L1409.6,45.3 L1409.6,58.7 L1406.7,58.7 L1406.7,49.6 Q1405.4,50.9 1403.7,51.4 L1403.7,48.9 Q1406.0,47.9 1406.8,45.3 Z" fill="#e5ab2f"/>
<text x="1412.45" y="51.25" font-family="&quot;Liberation Sans&quot;, sans-serif" font-weight="bold" font-size="27.5" fill="#e5ab2f">S</text>
<text x="1430.75" y="40.00" font-family="&quot;Liberation Sans&quot;, sans-serif" font-weight="bold" font-size="19" fill="#e5ab2f">2</text>
<text x="1429.30" y="290.75" font-family="&quot;Liberation Sans&quot;, sans-serif" font-weight="bold" font-size="27.5" fill="#00dd00">J</text>
<text x="1444.25" y="297.80" font-family="&quot;Liberation Sans&quot;, sans-serif" font-weight="bold" font-size="20" fill="#00dd00">2</text>
<text x="1455.35" y="290.75" font-family="&quot;Liberation Sans&quot;, sans-serif" font-weight="bold" font-size="27.5" fill="#00dd00">S</text>
<text x="1473.15" y="279.80" font-family="&quot;Liberation Sans&quot;, sans-serif" font-weight="bold" font-size="19.5" fill="#00dd00">2</text>
<text x="1428.80" y="422.35" font-family="&quot;Liberation Sans&quot;, sans-serif" font-weight="bold" font-size="27.5" fill="#00a0ff">J</text>
<path d="M1445.0,397.9 L1447.8,397.9 L1446.9,402.2 L1445.4,402.2 Z" fill="#00a0ff"/>
<text x="1443.95" y="429.90" font-family="&quot;Liberation Sans&quot;, sans-serif" font-weight="bold" font-size="19.5" fill="#00a0ff">2</text>
<text x="1455.15" y="422.35" font-family="&quot;Liberation Sans&quot;, sans-serif" font-weight="bold" font-size="27.5" fill="#00a0ff">S</text>
<text x="1472.75" y="411.00" font-family="&quot;Liberation Sans&quot;, sans-serif" font-weight="bold" font-size="19.5" fill="#00a0ff">2</text>
</svg></body></html>
